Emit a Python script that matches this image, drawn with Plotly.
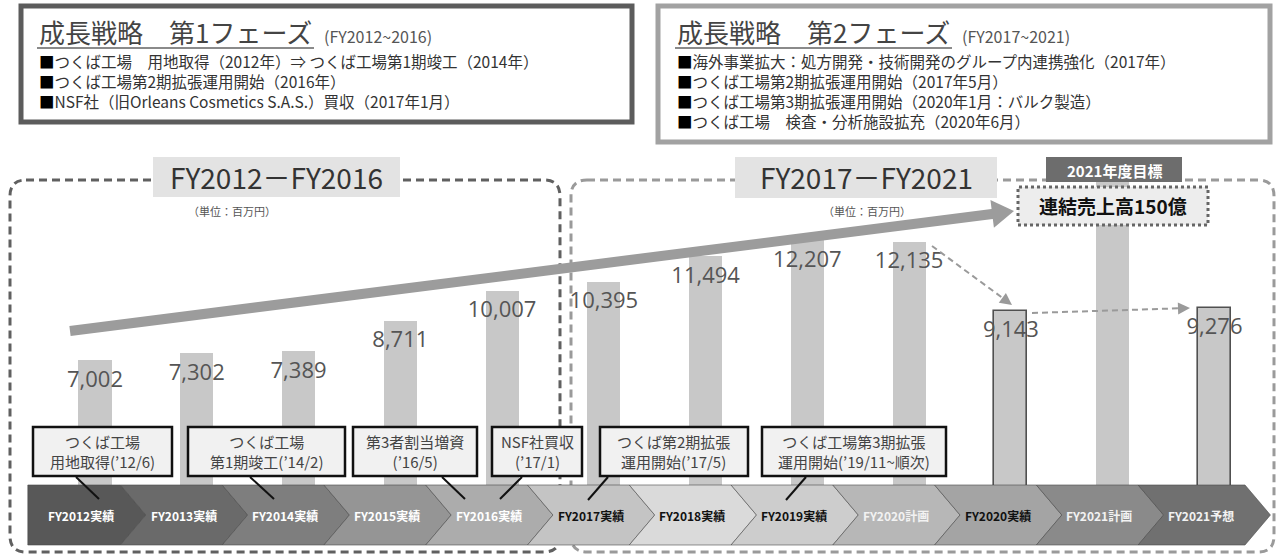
import math
import plotly.graph_objects as go

W, H = 1278, 556

# ---------------- data ----------------
categories = ["FY2012実績", "FY2013実績", "FY2014実績", "FY2015実績", "FY2016実績",
              "FY2017実績", "FY2018実績", "FY2019実績", "FY2020計画", "FY2020実績",
              "FY2021計画", "FY2021予想"]
sales = [7002, 7302, 7389, 8711, 10007, 10395, 11494, 12207, 12135, 9143, 15000, 9276]
value_labels = ["7,002", "7,302", "7,389", "8,711", "10,007", "10,395", "11,494",
                "12,207", "12,135", "9,143", "", "9,276"]
outlined = [False] * 9 + [True, False, True]

band_fill = ["#585858", "#6a6a6a", "#7e7e7e", "#959595", "#acacac", "#c4c4c4",
             "#dadada", "#cdcdcd", "#b7b7b7", "#a4a4a4", "#8a8a8a", "#707070"]
band_font = ["#ffffff"] * 5 + ["#111111"] * 3 + ["#f2f2f2", "#111111", "#f2f2f2", "#f2f2f2"]

phase1_title = "成長戦略　第1フェーズ"
phase1_period = "(FY2012~2016)"
phase1_items = ["つくば工場　用地取得（2012年）⇒ つくば工場第1期竣工（2014年）",
                "つくば工場第2期拡張運用開始（2016年）",
                "NSF社（旧Orleans Cosmetics S.A.S.）買収（2017年1月）"]
phase2_title = "成長戦略　第2フェーズ"
phase2_period = "(FY2017~2021)"
phase2_items = ["海外事業拡大：処方開発・技術開発のグループ内連携強化（2017年）",
                "つくば工場第2期拡張運用開始（2017年5月）",
                "つくば工場第3期拡張運用開始（2020年1月：バルク製造）",
                "つくば工場　検査・分析施設拡充（2020年6月）"]

period_titles = ["FY2012－FY2016", "FY2017－FY2021"]
unit_label = "（単位：百万円）"
target_badge = "2021年度目標"
target_text = "連結売上高150億"

callout_texts = ["つくば工場<br>用地取得(’12/6)", "つくば工場<br>第1期竣工(’14/2)",
                 "第3者割当増資<br>(’16/5)", "NSF社買収<br>(’17/1)",
                 "つくば第2期拡張<br>運用開始(’17/5)", "つくば工場第3期拡張<br>運用開始(’19/11~順次)"]

# ---------------- geometry helpers (layout only) ----------------
X0_PX, STEP_PX = 95.0, 101.77          # pixel centre of first category, spacing
X_RANGE = [-X0_PX / STEP_PX, (W - X0_PX) / STEP_PX]
ZERO_PX, PX_PER_UNIT = 522.0, 0.0231
Y_RANGE = [-(H - ZERO_PX) / PX_PER_UNIT, ZERO_PX / PX_PER_UNIT]
UNITS_PER_PX = 1 / PX_PER_UNIT

FONT = "Noto Sans CJK JP"


def pxx(x):
    return x / W


def pyy(y):
    return 1 - y / H


def P(x, y):
    return f"{pxx(x):.5f},{pyy(y):.5f}"


shapes = []
annotations = []


def rect(x0, y0, x1, y1, fill=None, line_color=None, lw=0, dash=None):
    d = dict(type="rect", xref="paper", yref="paper", x0=pxx(x0), x1=pxx(x1),
             y0=pyy(y1), y1=pyy(y0), layer="above",
             line=dict(width=lw, color=line_color or "rgba(0,0,0,0)"))
    if dash:
        d["line"]["dash"] = dash
    if fill:
        d["fillcolor"] = fill
    shapes.append(d)


def line(x0, y0, x1, y1, color, lw, dash=None):
    d = dict(type="line", xref="paper", yref="paper", x0=pxx(x0), y0=pyy(y0),
             x1=pxx(x1), y1=pyy(y1), layer="above", line=dict(color=color, width=lw))
    if dash:
        d["line"]["dash"] = dash
    shapes.append(d)


def arrowhead(x0, y0, x1, y1, length, half, color):
    dx, dy = x1 - x0, y1 - y0
    n = math.hypot(dx, dy)
    ux, uy = dx / n, dy / n
    bx, by = x1 - ux * length, y1 - uy * length
    path = (f"M{P(x1, y1)} L{P(bx - uy * half, by + ux * half)} "
            f"L{P(bx + uy * half, by - ux * half)} Z")
    shapes.append(dict(type="path", xref="paper", yref="paper", path=path,
                       fillcolor=color, line=dict(width=0), layer="above"))


def rrect_path(x0, y0, x1, y1, r):
    return (f"M{P(x0 + r, y0)} L{P(x1 - r, y0)} Q{P(x1, y0)} {P(x1, y0 + r)} "
            f"L{P(x1, y1 - r)} Q{P(x1, y1)} {P(x1 - r, y1)} L{P(x0 + r, y1)} "
            f"Q{P(x0, y1)} {P(x0, y1 - r)} L{P(x0, y0 + r)} Q{P(x0, y0)} {P(x0 + r, y0)} Z")


def text(x, y, s, size, color="#333", xanchor="center", yanchor="middle", family=FONT,
         align="center"):
    annotations.append(dict(xref="paper", yref="paper", x=pxx(x), y=pyy(y), text=s,
                            showarrow=False, xanchor=xanchor, yanchor=yanchor, align=align,
                            font=dict(family=family, size=size, color=color)))


# ---------------- top phase boxes ----------------
rect(21, 6, 632, 122, fill="white", line_color="#5c5c5c", lw=5)
rect(658, 6, 1270, 142, fill="white", line_color="#a2a2a2", lw=5)

ITEM_SIZE = 15.5
ITEM_LH = ITEM_SIZE * 1.3
for (bx, per_x, title, period, items) in [
        (37, 322, phase1_title, phase1_period, phase1_items),
        (675, 960, phase2_title, phase2_period, phase2_items)]:
    text(bx, 32, title, 26, "#444", xanchor="left")
    line(bx, 48, per_x - 8, 48, "#8a8a8a", 2)
    text(per_x, 36, period, 16, "#555", xanchor="left")
    body = "<br>".join("<span style='color:#000'>■</span>" + it for it in items)
    centre = 61 + (len(items) - 1) * ITEM_LH / 2
    text(bx, centre, body, ITEM_SIZE, "#333", xanchor="left", align="left")

# ---------------- dashed period frames ----------------
shapes.append(dict(type="path", xref="paper", yref="paper", path=rrect_path(10, 180, 560, 552, 16),
                   line=dict(color="#606060", width=3, dash="8px,5px"), layer="above"))
shapes.append(dict(type="path", xref="paper", yref="paper", path=rrect_path(571, 180, 1274, 552, 16),
                   line=dict(color="#9a9a9a", width=3, dash="8px,5px"), layer="above"))

rect(153, 157, 400, 197, fill="#e3e3e3")
rect(735, 157, 997, 198, fill="#e3e3e3")
text(276, 177, period_titles[0], 28, "#333")
text(866, 177, period_titles[1], 28, "#333")
text(232, 211, unit_label, 11, "#555")
text(867, 211, unit_label, 11, "#555")

# ---------------- big growth arrow ----------------
line(70, 331, 996, 213.5, "#9c9c9c", 10)
arrowhead(70, 331, 1014, 211, 22, 14, "#9c9c9c")

# ---------------- 2021 target ----------------
rect(1046, 157, 1182, 182, fill="#6d6d6d")
text(1114, 170, "<b>" + target_badge + "</b>", 15, "white")
rect(1018, 187, 1208, 225, fill="#ededed", line_color="#666", lw=3, dash="3px,3px")
text(1113, 206, "<b>" + target_text + "</b>", 19, "#111")

# dashed trend arrows
line(932, 246, 1004, 299, "#9a9a9a", 2, dash="6px,4px")
arrowhead(932, 246, 1012, 305, 12, 6, "#9a9a9a")
line(1032, 313, 1180, 308.3, "#9a9a9a", 2, dash="6px,4px")
arrowhead(1032, 313, 1190, 308, 12, 6, "#9a9a9a")

# ---------------- chevron band ----------------
BAND_TOP, BAND_BOT = 485, 545
BAND_MID = (BAND_TOP + BAND_BOT) / 2
D = 0.25  # notch depth in category units
n = len(categories)
for i in range(n):
    tip = i + 0.5 if i < n - 1 else n - 1 + 0.55
    if i == 0:
        left_top = left_bot = left_mid = -0.66
    else:
        left_top = left_bot = i - 0.5 - D
        left_mid = i - 0.5
    ty, by_, my = pyy(BAND_TOP), pyy(BAND_BOT), pyy(BAND_MID)
    path = (f"M{left_top:.4f},{ty:.5f} L{tip - D:.4f},{ty:.5f} L{tip:.4f},{my:.5f} "
            f"L{tip - D:.4f},{by_:.5f} L{left_bot:.4f},{by_:.5f} L{left_mid:.4f},{my:.5f} Z")
    shapes.append(dict(type="path", xref="x", yref="paper", path=path,
                       fillcolor=band_fill[i], line=dict(color="#4a4a4a", width=0.6),
                       layer="above"))
    cx = (i - 0.13) if i > 0 else -0.14
    annotations.append(dict(xref="x", yref="paper", x=cx, y=my, text="<b>" + categories[i] + "</b>",
                            showarrow=False, xanchor="center", yanchor="middle",
                            font=dict(family=FONT, size=12, color=band_font[i])))

# ---------------- callouts ----------------
callout_boxes = [(33, 172), (188, 345), (353, 477), (492, 582), (600, 748), (762, 946)]
callout_line_start = [76, 250, 442, 522, 608, 806]
callout_line_end = [(99, 499), (274, 499), (465, 499), (500, 499), (588, 500), (786, 500)]
for (x0, x1), t in zip(callout_boxes, callout_texts):
    rect(x0, 427, x1, 476, fill="#f1f1f1", line_color="#111", lw=2.5)
    text((x0 + x1) / 2, 451.5, t, 15, "#444")
for sx, (lx, ly) in zip(callout_line_start, callout_line_end):
    line(sx, 477, lx, ly, "#111", 2)

# ---------------- traces ----------------
fig = go.Figure()
fig.add_trace(go.Bar(
    x=categories, y=sales, width=0.325,
    marker=dict(color="#c8c8c8",
                line=dict(color="#505050", width=[1.6 if o else 0 for o in outlined])),
    hoverinfo="x+y"))
fig.add_trace(go.Scatter(
    x=categories, y=[v - 21 * UNITS_PER_PX for v in sales], mode="text",
    text=value_labels, textposition="middle center",
    textfont=dict(family="Open Sans", size=22, color="#555"), hoverinfo="skip"))

fig.update_layout(
    width=W, height=H, autosize=False, showlegend=False,
    margin=dict(l=0, r=0, t=0, b=0, pad=0),
    paper_bgcolor="white", plot_bgcolor="white",
    xaxis=dict(type="category", range=X_RANGE, visible=False, fixedrange=True),
    yaxis=dict(range=Y_RANGE, visible=False, fixedrange=True),
    shapes=shapes, annotations=annotations, bargap=0,
)
fig.write_html("out.html")
